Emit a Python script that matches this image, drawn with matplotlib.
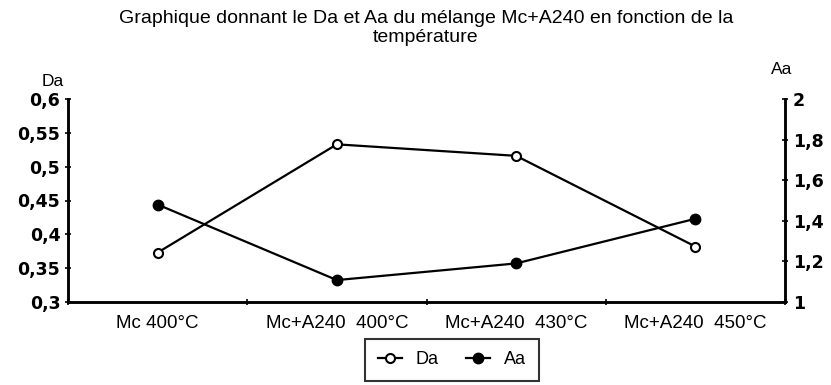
import numpy as np
import matplotlib.pyplot as plt

categories = ['Mc 400°C', 'Mc+A240  400°C', 'Mc+A240  430°C', 'Mc+A240  450°C']
da_values = [0.373, 0.533, 0.516, 0.382]
aa_values = [1.48, 1.108, 1.19, 1.41]

da_ticks = [0.3, 0.35, 0.4, 0.45, 0.5, 0.55, 0.6]
da_labels = ['0,3', '0,35', '0,4', '0,45', '0,5', '0,55', '0,6']
aa_ticks = [1, 1.2, 1.4, 1.6, 1.8, 2]
aa_labels = ['1', '1,2', '1,4', '1,6', '1,8', '2']

plt.rcParams['font.family'] = ['Liberation Sans', 'DejaVu Sans']

fig = plt.figure(figsize=(8.31, 3.85), dpi=100)
ax = fig.add_axes([68/831, 1 - 302/385, (785 - 68)/831, (302 - 99)/385])
ax2 = ax.twinx()

x = np.arange(len(categories))
l1, = ax.plot(x, da_values, '-o', color='black', lw=1.6, ms=6.5,
              mfc='white', mew=1.5, label='Da', zorder=3)
l2, = ax2.plot(x, aa_values, '-o', color='black', lw=1.6, ms=7.5,
               label='Aa', zorder=3)

ax.set_xlim(-0.5, len(categories) - 0.5)
ax.set_ylim(0.3, 0.6)
ax2.set_ylim(1, 2)

# ticks between categories, labels centred
ax.set_xticks(np.arange(-0.5, len(categories), 1), [''] * (len(categories) + 1))
ax.set_xticks(x, categories, minor=True)
ax.tick_params(axis='x', which='major', direction='inout', length=5, width=1.2)
ax.tick_params(axis='x', which='minor', length=0, pad=9, labelsize=13.5)

ax.set_yticks(da_ticks, da_labels)
ax2.set_yticks(aa_ticks, aa_labels)
ax.tick_params(axis='y', direction='inout', length=5, width=1.2, pad=3)
ax2.tick_params(axis='y', direction='inout', length=5, width=1.2, pad=3)
for lab in ax.get_yticklabels() + ax2.get_yticklabels():
    lab.set_fontfamily('DejaVu Sans')
    lab.set_fontweight('bold')
    lab.set_fontsize(12.5)

for a in (ax, ax2):
    a.spines['top'].set_visible(False)
    for s in ('left', 'right', 'bottom'):
        a.spines[s].set_linewidth(1.8)

fig.text(426/831, 1 - 28/385,
         'Graphique donnant le Da et Aa du mélange Mc+A240 en fonction de la\ntempérature',
         ha='center', va='center', fontsize=14, linespacing=1.2)
fig.text(53/831, 1 - 81/385, 'Da', ha='center', va='center', fontsize=12.5)
fig.text(782/831, 1 - 70/385, 'Aa', ha='center', va='center', fontsize=12.5)

leg = fig.legend([l1, l2], ['Da', 'Aa'], loc='center', ncol=2,
                 bbox_to_anchor=(452/831, 1 - 360/385), fontsize=13,
                 handlelength=1.3, columnspacing=1.5, borderpad=0.7,
                 fancybox=False, edgecolor='black')
leg.get_frame().set_linewidth(1.5)

plt.savefig('out.png', dpi=100)
